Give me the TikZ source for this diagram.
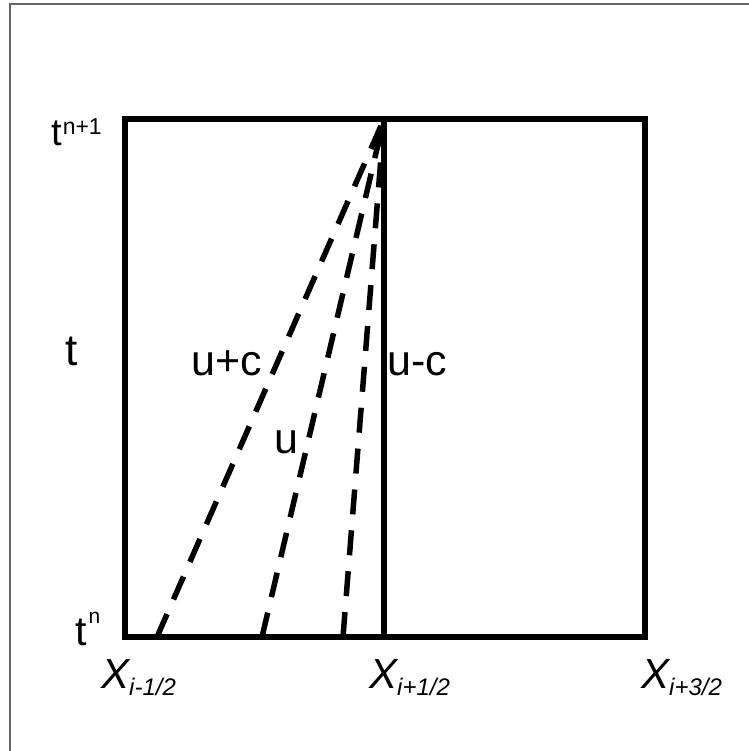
\documentclass[tikz,border=0pt]{standalone}
\usepackage{fontspec}
\setmainfont{Liberation Sans}
\begin{document}
\begin{tikzpicture}[x=1pt,y=-1pt,
  box/.style={line width=6pt,line cap=rect,line join=miter},
  wave/.style={line width=5.5pt,dash pattern=on 25pt off 16pt},
  lbl/.style={inner sep=0pt,anchor=base west},
  frameline/.style={line width=1.5pt,draw=black!60}]
\useasboundingbox (0,0) rectangle (748,751);
\draw[frameline] (10,760) -- (10,4) -- (760,4);
% grid corners
\coordinate (TL) at (125,119);
\coordinate (TM) at (384,119);
\coordinate (TR) at (645,119);
\coordinate (BL) at (125,637);
\coordinate (BM) at (384,637);
\coordinate (BR) at (645,637);
\coordinate (P1) at (157,637);
\coordinate (P2) at (262,637);
\coordinate (P3) at (343,637);
\draw[box] (TL) rectangle (BR);
\draw[box] (TM) -- (BM);
\draw[wave] (P1) -- (TM);
\draw[wave] (P2) -- (TM);
\draw[wave] (P3) -- (TM);
% time labels
\node[lbl] (tn1) at (51,146) {\fontsize{38}{42}\selectfont t\hspace{1pt}\raisebox{11pt}{\fontsize{23}{26}\selectfont n+1}};
\node[lbl] (t) at (65,365) {\fontsize{44}{48}\selectfont t};
\node[lbl] (tn) at (75,645) {\fontsize{41}{46}\selectfont t\hspace{2pt}\raisebox{22pt}{\fontsize{21}{24}\selectfont n}};
% wave labels
\node[lbl] (upc) at (191,375) {\fontsize{43}{48}\selectfont u+c};
\node[lbl] (umc) at (387,375) {\fontsize{43}{48}\selectfont u-c};
\node[lbl] (u) at (274,453) {\fontsize{43}{48}\selectfont u};
% space labels
\node[lbl] (x1) at (101,688) {\fontsize{42}{46}\selectfont\itshape X\raisebox{-7pt}{\fontsize{24}{28}\selectfont i-1/2}};
\node[lbl] (x2) at (369,688) {\fontsize{42}{46}\selectfont\itshape X\raisebox{-7pt}{\fontsize{24}{28}\selectfont i+1/2}};
\node[lbl] (x3) at (641,688) {\fontsize{42}{46}\selectfont\itshape X\raisebox{-7pt}{\fontsize{24}{28}\selectfont i+3/2}};
\end{tikzpicture}
\end{document}
